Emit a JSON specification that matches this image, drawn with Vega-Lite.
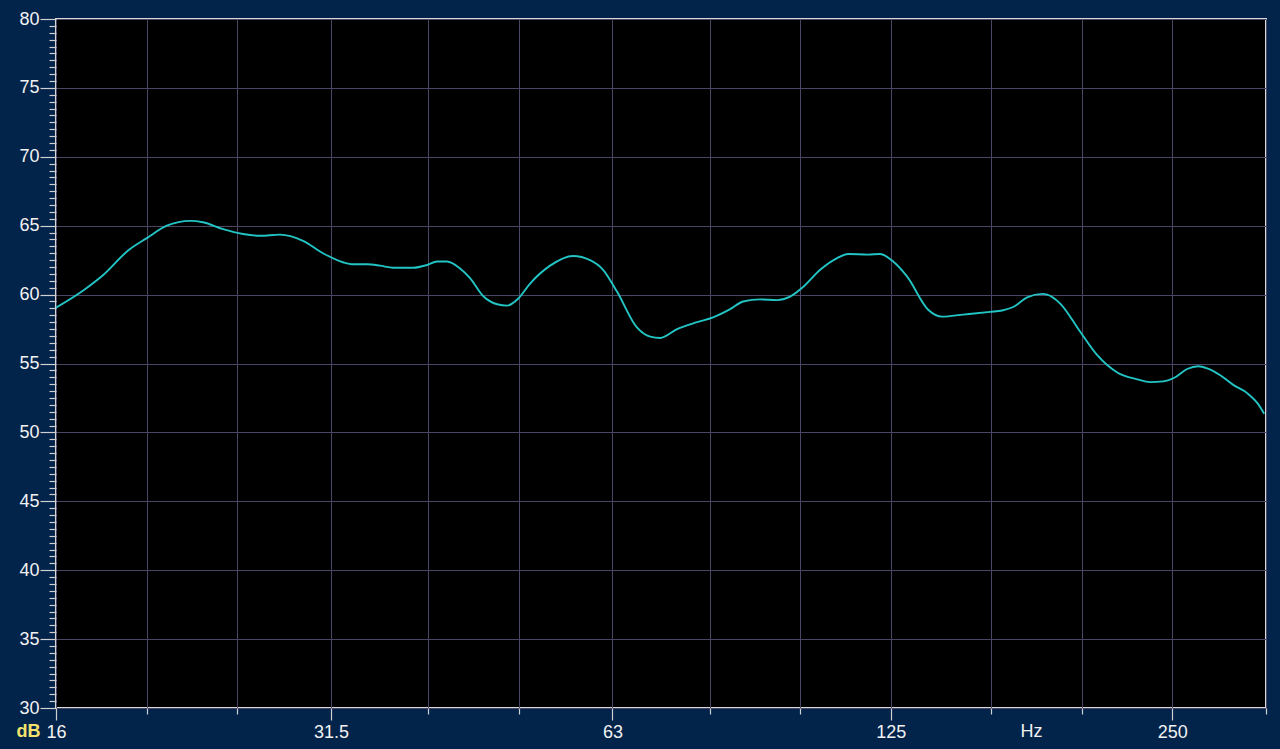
{
  "$schema": "https://vega.github.io/schema/vega-lite/v6.json",
  "width": 1210,
  "height": 689,
  "autosize": {"type": "none"},
  "padding": {"left": 56, "top": 19, "right": 14, "bottom": 41},
  "background": "#02234a",
  "config": {
    "view": {"fill": "#000000", "stroke": "#d8d8d8", "strokeWidth": 2},
    "font": "Liberation Sans"
  },
  "data": {
    "values": [
      {"freq": 16.0, "db": 59.05},
      {"freq": 17.11, "db": 60.3},
      {"freq": 17.96, "db": 61.4},
      {"freq": 19.11, "db": 63.2},
      {"freq": 20.01, "db": 64.1},
      {"freq": 21.02, "db": 65.0},
      {"freq": 22.26, "db": 65.35},
      {"freq": 22.98, "db": 65.25},
      {"freq": 24.14, "db": 64.75},
      {"freq": 25.36, "db": 64.4},
      {"freq": 26.45, "db": 64.27},
      {"freq": 27.78, "db": 64.35},
      {"freq": 29.4, "db": 63.9},
      {"freq": 30.88, "db": 63.0},
      {"freq": 32.44, "db": 62.35},
      {"freq": 33.25, "db": 62.2},
      {"freq": 34.42, "db": 62.2},
      {"freq": 35.54, "db": 62.1},
      {"freq": 36.7, "db": 61.95},
      {"freq": 38.55, "db": 61.95},
      {"freq": 39.91, "db": 62.15},
      {"freq": 40.9, "db": 62.4},
      {"freq": 41.92, "db": 62.4},
      {"freq": 43.28, "db": 61.9},
      {"freq": 44.36, "db": 61.2},
      {"freq": 45.81, "db": 59.9},
      {"freq": 47.42, "db": 59.3},
      {"freq": 48.6, "db": 59.2},
      {"freq": 49.93, "db": 59.7},
      {"freq": 51.43, "db": 60.8},
      {"freq": 54.03, "db": 62.1},
      {"freq": 57.18, "db": 62.8},
      {"freq": 59.62, "db": 62.5},
      {"freq": 61.56, "db": 61.8},
      {"freq": 63.72, "db": 60.2},
      {"freq": 66.94, "db": 57.6},
      {"freq": 69.12, "db": 56.95},
      {"freq": 70.84, "db": 56.85},
      {"freq": 73.87, "db": 57.5},
      {"freq": 77.6, "db": 58.0},
      {"freq": 80.72, "db": 58.35},
      {"freq": 84.18, "db": 58.95},
      {"freq": 86.92, "db": 59.5},
      {"freq": 90.62, "db": 59.65},
      {"freq": 94.49, "db": 59.6},
      {"freq": 97.57, "db": 59.85},
      {"freq": 100.75, "db": 60.55},
      {"freq": 105.06, "db": 61.8},
      {"freq": 109.55, "db": 62.65},
      {"freq": 112.56, "db": 62.95},
      {"freq": 118.24, "db": 62.9},
      {"freq": 121.79, "db": 62.95},
      {"freq": 125.76, "db": 62.4},
      {"freq": 130.17, "db": 61.3},
      {"freq": 137.08, "db": 58.9},
      {"freq": 141.89, "db": 58.4},
      {"freq": 149.43, "db": 58.55},
      {"freq": 159.69, "db": 58.75},
      {"freq": 164.48, "db": 58.85},
      {"freq": 169.01, "db": 59.1},
      {"freq": 174.94, "db": 59.8},
      {"freq": 181.52, "db": 60.05},
      {"freq": 183.77, "db": 60.0},
      {"freq": 189.76, "db": 59.35},
      {"freq": 199.34, "db": 57.3},
      {"freq": 207.89, "db": 55.6},
      {"freq": 218.37, "db": 54.35},
      {"freq": 229.38, "db": 53.85},
      {"freq": 236.85, "db": 53.65},
      {"freq": 244.56, "db": 53.7},
      {"freq": 251.87, "db": 54.0},
      {"freq": 259.42, "db": 54.6},
      {"freq": 266.56, "db": 54.8},
      {"freq": 272.54, "db": 54.65},
      {"freq": 281.42, "db": 54.15},
      {"freq": 290.58, "db": 53.45},
      {"freq": 300.75, "db": 52.85},
      {"freq": 309.02, "db": 52.05},
      {"freq": 313.6, "db": 51.35}
    ]
  },
  "mark": {"type": "line", "color": "#22c4c4", "strokeWidth": 1.9, "interpolate": "monotone", "clip": true},
  "encoding": {
    "x": {
      "field": "freq",
      "type": "quantitative",
      "scale": {"type": "log", "domain": [16, 315], "nice": false},
      "axis": {
        "values": [16, 20, 25, 31.5, 40, 50, 63, 80, 100, 125, 160, 200, 250, 315],
        "labelExpr": "(datum.value === 16 || datum.value === 31.5 || datum.value === 63 || datum.value === 125 || datum.value === 250) ? '' + datum.value : ''",
        "labelOverlap": false,
        "labelFlush": false,
        "labelBound": false,
        "labelColor": "#f2f2f2",
        "labelFontSize": 18,
        "labelFont": "Liberation Sans",
        "labelPadding": 3,
        "tickColor": "#d0d0d0",
        "tickWidth": 1.2,
        "tickSize": {"condition": {"test": "datum.value === 16 || datum.value === 31.5 || datum.value === 63 || datum.value === 125 || datum.value === 250", "value": 12}, "value": 6},
        "grid": true,
        "gridColor": "#4a4766",
        "gridWidth": 1,
        "domain": false,
        "title": "Hz",
        "titleColor": "#f2f2f2",
        "titleFontSize": 18,
        "titleFontWeight": "normal",
        "titleFont": "Liberation Sans",
        "titleX": 975,
        "titleY": 23,
        "titleAlign": "center",
        "titleBaseline": "middle"
      }
    },
    "y": {
      "field": "db",
      "type": "quantitative",
      "scale": {"domain": [30, 80], "nice": false, "zero": false},
      "axis": {
        "values": [30, 30.5, 31, 31.5, 32, 32.5, 33, 33.5, 34, 34.5, 35, 35.5, 36, 36.5, 37, 37.5, 38, 38.5, 39, 39.5, 40, 40.5, 41, 41.5, 42, 42.5, 43, 43.5, 44, 44.5, 45, 45.5, 46, 46.5, 47, 47.5, 48, 48.5, 49, 49.5, 50, 50.5, 51, 51.5, 52, 52.5, 53, 53.5, 54, 54.5, 55, 55.5, 56, 56.5, 57, 57.5, 58, 58.5, 59, 59.5, 60, 60.5, 61, 61.5, 62, 62.5, 63, 63.5, 64, 64.5, 65, 65.5, 66, 66.5, 67, 67.5, 68, 68.5, 69, 69.5, 70, 70.5, 71, 71.5, 72, 72.5, 73, 73.5, 74, 74.5, 75, 75.5, 76, 76.5, 77, 77.5, 78, 78.5, 79, 79.5, 80],
        "labelExpr": "datum.value % 5 === 0 ? '' + datum.value : ''",
        "labelOverlap": false,
        "labelFlush": false,
        "labelBound": false,
        "labelColor": "#f2f2f2",
        "labelFontSize": 18,
        "labelFont": "Liberation Sans",
        "labelPadding": 1,
        "tickColor": "#d0d0d0",
        "tickWidth": 1.2,
        "tickSize": {"condition": {"test": "datum.value % 5 === 0", "value": 16}, "value": 7},
        "grid": true,
        "gridColor": "#4a4766",
        "gridWidth": 1,
        "gridOpacity": {"condition": {"test": "datum.value % 5 === 0", "value": 1}, "value": 0},
        "domain": false,
        "title": "dB",
        "titleColor": "#f3e36a",
        "titleFontSize": 18,
        "titleFontWeight": "bold",
        "titleFont": "Liberation Sans",
        "titleAngle": 0,
        "titleX": -28,
        "titleY": 712,
        "titleAlign": "center",
        "titleBaseline": "middle"
      }
    }
  }
}
